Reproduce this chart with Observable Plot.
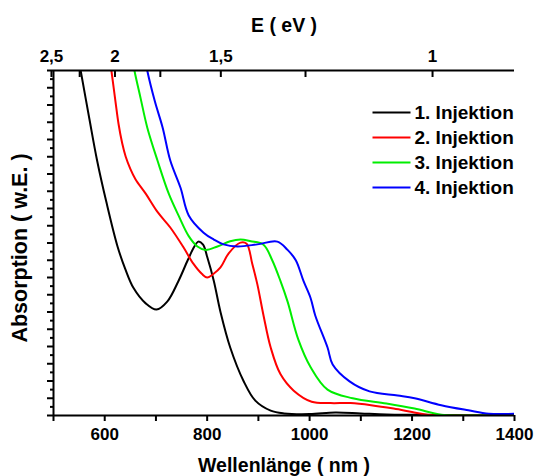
<!DOCTYPE html>
<html>
<head>
<meta charset="utf-8">
<script src="https://cdn.jsdelivr.net/npm/d3@7"></script>
<script src="https://cdn.jsdelivr.net/npm/@observablehq/plot@0.6"></script>
<style>
  html, body { margin: 0; padding: 0; background: #fff; }
  #chart svg { display: block; }
</style>
</head>
<body>
<div id="chart"></div>
<script>
// ---- data ----
const seriesNames = ["1. Injektion", "2. Injektion", "3. Injektion", "4. Injektion"];
const seriesColors = ["#000000", "#ff0000", "#00ee00", "#0000ff"];

const nm1 = [548, 553, 570, 585, 603, 625, 640, 656, 680, 701, 722, 744, 762, 775, 783, 792, 800, 813, 826, 845, 871, 894, 924, 950, 1000, 1050, 1100, 1150, 1200, 1300, 1400];
const abs1 = [1.04, 1.0, 0.86, 0.74, 0.62, 0.49, 0.425, 0.37, 0.325, 0.307, 0.33, 0.39, 0.45, 0.49, 0.504, 0.495, 0.46, 0.39, 0.30, 0.197, 0.10, 0.043, 0.014, 0.006, 0.004, 0.009, 0.006, 0.003, 0.002, 0.001, 0];

const nm2 = [608, 613, 621, 627, 634, 641, 650, 660, 680, 703, 728, 754, 773, 790, 800, 812, 826, 842, 865, 877, 888, 898, 910, 924, 943, 969, 1004, 1041, 1080, 1120, 1164, 1200, 1230, 1300, 1400];
const abs2 = [1.05, 1.0, 0.91, 0.845, 0.79, 0.75, 0.715, 0.685, 0.643, 0.59, 0.545, 0.487, 0.44, 0.41, 0.40, 0.41, 0.429, 0.47, 0.501, 0.498, 0.44, 0.38, 0.29, 0.197, 0.12, 0.072, 0.04, 0.036, 0.036, 0.03, 0.02, 0.01, 0.002, 0, 0];

const nm3 = [652, 658, 670, 683, 703, 725, 744, 764, 781, 797, 820, 845, 865, 885, 910, 927, 943, 957, 978, 1002, 1035, 1084, 1150, 1205, 1257, 1300, 1400];
const abs3 = [1.05, 1.0, 0.92, 0.835, 0.739, 0.643, 0.58, 0.52, 0.49, 0.48, 0.49, 0.505, 0.51, 0.505, 0.495, 0.45, 0.39, 0.33, 0.22, 0.14, 0.075, 0.05, 0.035, 0.02, 0.002, 0, 0];

const nm4 = [677, 683, 698, 713, 728, 748, 764, 793, 813, 832, 859, 898, 937, 957, 973, 988, 1002, 1011, 1035, 1045, 1078, 1117, 1172, 1205, 1257, 1310, 1350, 1400];
const abs4 = [1.05, 1.0, 0.91, 0.835, 0.739, 0.66, 0.58, 0.53, 0.51, 0.496, 0.49, 0.496, 0.504, 0.48, 0.45, 0.39, 0.34, 0.29, 0.197, 0.148, 0.099, 0.07, 0.058, 0.05, 0.03, 0.015, 0.005, 0.005];

const nmTicks = [500, 600, 700, 800, 900, 1000, 1100, 1200, 1300, 1400];
const nmLabels = [600, 800, 1000, 1200, 1400];
const eVTicks = [2.5, 2.25, 2, 1.75, 1.5, 1.25, 1];
const eVLabels = [2.5, 2, 1.5, 1];
const absMajor = d3.range(0, 1.0001, 0.05);
const absMinor = d3.range(0.025, 1, 0.05);

// ---- build ----
const nmArrays = [nm1, nm2, nm3, nm4];
const absArrays = [abs1, abs2, abs3, abs4];
const rows = [];
nmArrays.forEach((xs, s) => xs.forEach((x, i) => rows.push({series: seriesNames[s], nm: x, a: absArrays[s][i]})));

const font = "Liberation Sans, Arial, Helvetica, sans-serif";
const fmtComma = d => String(d).replace(".", ",");
const noText = () => "";

const lineSymbol = {draw(ctx) { ctx.moveTo(-19, 0); ctx.lineTo(19, 0); }};

const legendMarks = [];
seriesNames.forEach((name, k) => {
  legendMarks.push(Plot.dot([0], {frameAnchor: "top-right", dx: -123, dy: 42 + 25 * k, symbol: lineSymbol, stroke: seriesColors[k], strokeWidth: 2, fill: "none"}));
  legendMarks.push(Plot.text([name], {frameAnchor: "top-right", dx: -100, dy: 42 + 25 * k, text: d => d, textAnchor: "start", lineAnchor: "middle", fontSize: 19, fontWeight: "bold", fill: "#000"}));
});

const chart = Plot.plot({
  width: 534,
  height: 476,
  marginLeft: 53,
  marginRight: 20,
  marginTop: 70,
  marginBottom: 61,
  style: {fontFamily: font, background: "#fff", overflow: "visible"},
  x: {domain: [500, 1400]},
  y: {domain: [0, 1]},
  color: {domain: seriesNames, range: seriesColors},
  marks: [
    // curves
    Plot.line(rows, {x: "nm", y: "a", z: "series", stroke: "series", strokeWidth: 2, curve: "catmull-rom", clip: true}),
    // frame lines
    Plot.ruleY([0], {stroke: "#000", strokeWidth: 2}),
    Plot.ruleY([1], {stroke: "#000", strokeWidth: 2}),
    Plot.ruleX([500], {stroke: "#000", strokeWidth: 2}),
    // bottom axis
    Plot.axisX({anchor: "bottom", ticks: nmTicks, tickSize: 6, tickFormat: noText, strokeWidth: 2, label: null}),
    Plot.axisX({anchor: "bottom", ticks: nmLabels, tickSize: 0, tickPadding: 12, tickFormat: d => String(d), fontSize: 17, fontWeight: "bold", label: null}),
    // top axis (energy)
    Plot.axisX({anchor: "top", ticks: eVTicks.map(e => 1240 / e), tickSize: -6, tickFormat: noText, strokeWidth: 2, label: null}),
    Plot.axisX({anchor: "top", ticks: eVLabels.map(e => 1240 / e), tickSize: 0, tickPadding: 9, tickFormat: d => fmtComma(+(1240 / d).toFixed(2)), fontSize: 17, fontWeight: "bold", label: null}),
    // left axis
    Plot.axisY({ticks: absMajor, tickSize: 6, tickFormat: noText, strokeWidth: 2, label: null}),
    Plot.axisY({ticks: absMinor, tickSize: 3, tickFormat: noText, strokeWidth: 2, label: null}),
    // titles
    Plot.text(["Wellenlänge ( nm )"], {frameAnchor: "bottom", dy: 50, text: d => d, textAnchor: "middle", lineAnchor: "middle", fontSize: 19.5, fontWeight: "bold"}),
    Plot.text(["E ( eV )"], {frameAnchor: "top", dy: -45, text: d => d, textAnchor: "middle", lineAnchor: "middle", fontSize: 19.5, fontWeight: "bold"}),
    Plot.text(["Absorption ( w.E. )"], {frameAnchor: "left", dx: -33, dy: 5, rotate: -90, text: d => d, textAnchor: "middle", lineAnchor: "middle", fontSize: 21.5, fontWeight: "bold"}),
    ...legendMarks
  ]
});
document.getElementById("chart").appendChild(chart);
</script>
</body>
</html>
